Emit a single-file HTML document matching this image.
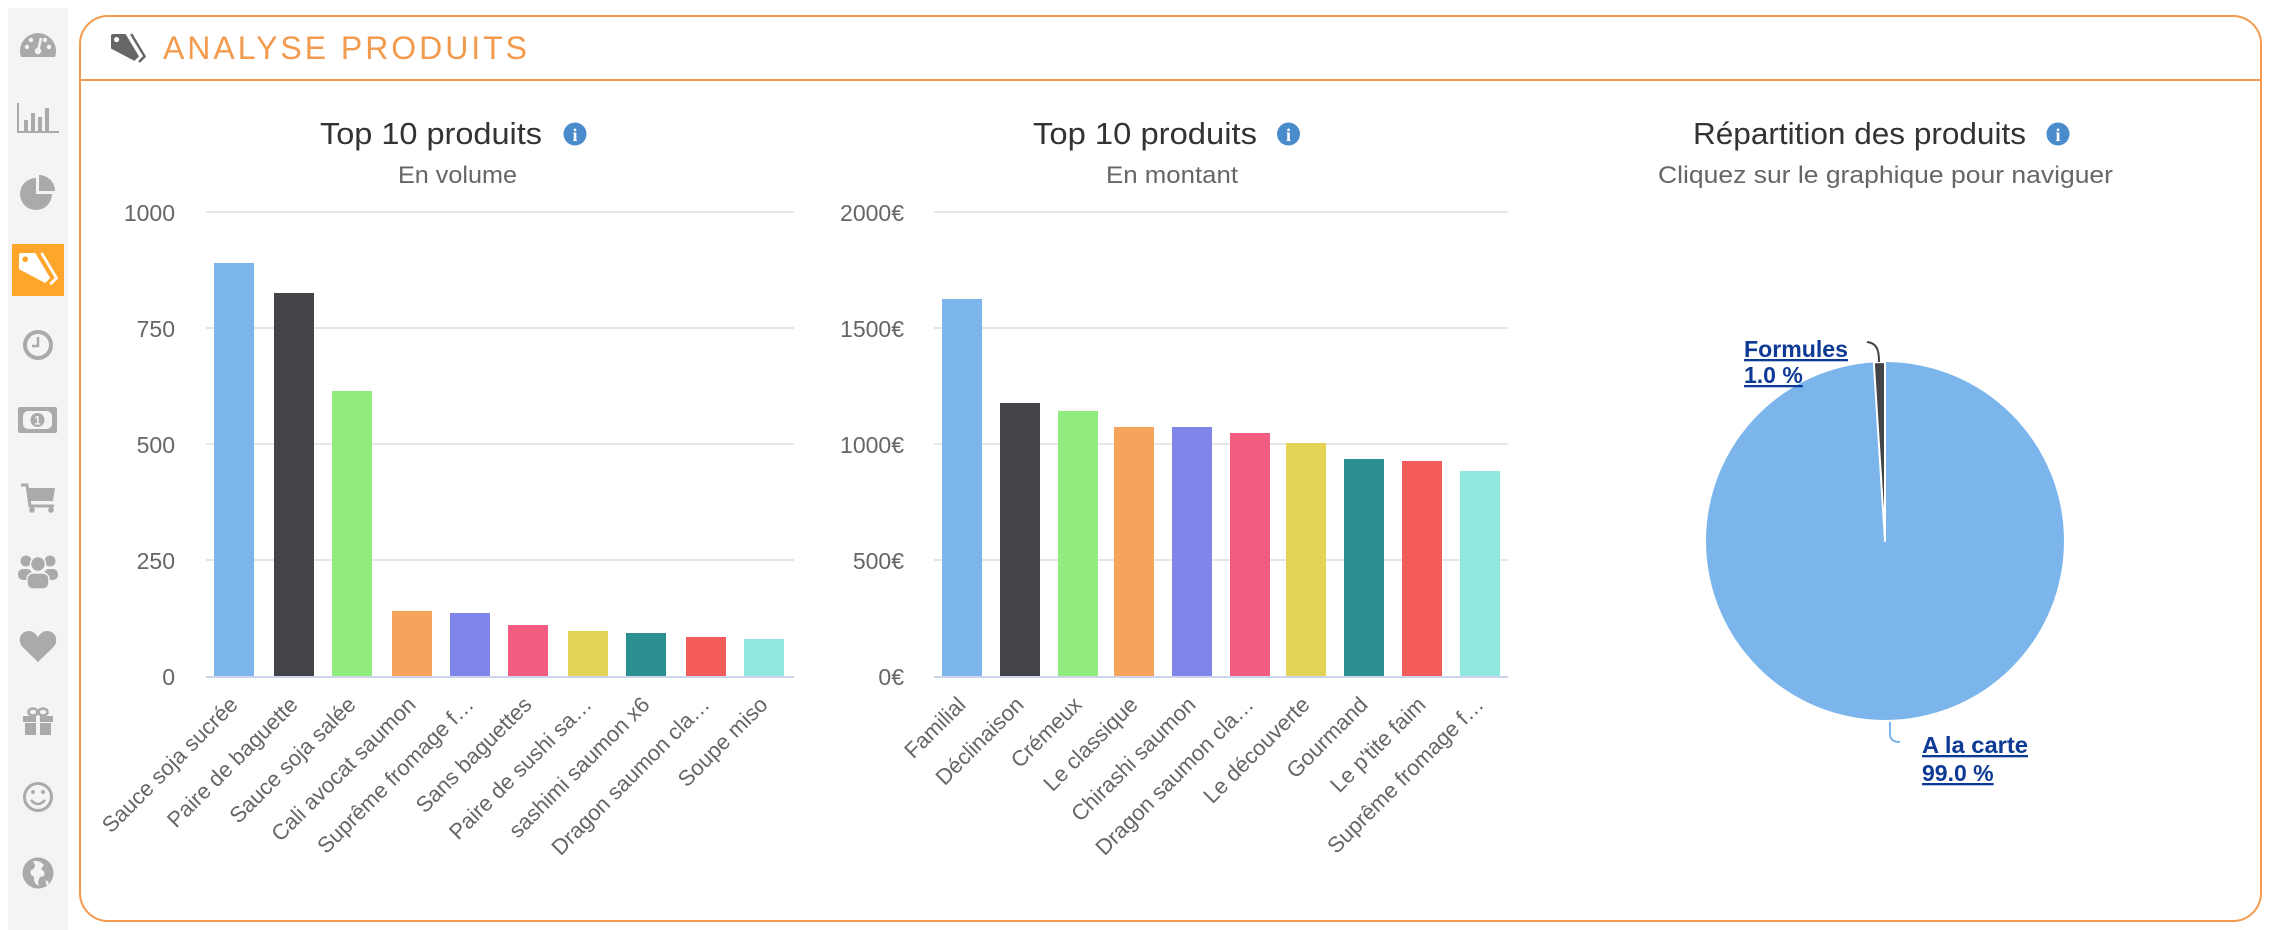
<!DOCTYPE html>
<html><head><meta charset="utf-8"><style>
html,body{margin:0;padding:0;background:#fff;}
svg{display:block;font-family:"Liberation Sans",sans-serif;}
</style></head><body>
<svg width="2272" height="930" viewBox="0 0 2272 930" xmlns="http://www.w3.org/2000/svg">
<!-- sidebar -->
<rect x="8" y="8" width="60" height="922" fill="#f4f4f4"/>
<rect x="12" y="244" width="52" height="52" fill="#fea62b"/>
<g fill="#aaa">
 <!-- gauge -->
 <path d="M21 57 A18 18 0 1 1 55 57 Z"/>
 <g fill="#f4f4f4"><circle cx="27" cy="47" r="2.2"/><circle cx="31" cy="40" r="2.2"/><circle cx="45" cy="40" r="2.2"/><circle cx="49" cy="47" r="2.2"/><circle cx="38" cy="51" r="3.2"/></g>
 <path d="M38 51 L41 38" stroke="#f4f4f4" stroke-width="2.5"/>
 <!-- bar chart -->
 <path d="M18 103 V132 H59" stroke="#aaa" stroke-width="2" fill="none"/>
 <rect x="24" y="120" width="4" height="11"/><rect x="31" y="113" width="4" height="18"/><rect x="38" y="117" width="4" height="14"/><rect x="45" y="108" width="4" height="23"/>
 <!-- pie -->
 <path d="M36 194 V178 A16 16 0 1 0 52 194 Z"/>
 <path d="M39 191 V175 A16 16 0 0 1 55 191 Z"/>
 <!-- clock -->
 <circle cx="38" cy="345" r="13" fill="none" stroke="#aaa" stroke-width="4"/>
 <path d="M38 337 V346 H32" fill="none" stroke="#aaa" stroke-width="2.5"/>
 <!-- money -->
 <rect x="18" y="407" width="39" height="26" rx="2"/>
 <rect x="23" y="411" width="29" height="18" rx="5" fill="#f4f4f4"/>
 <circle cx="37.5" cy="420" r="7"/>
 <text x="37.5" y="424.5" font-size="12" font-weight="bold" fill="#f4f4f4" text-anchor="middle">1</text>
 <!-- cart -->
 <path d="M21 485 H27 L30 506 H54" fill="none" stroke="#aaa" stroke-width="3"/>
 <path d="M28 488 H55 L53 501 H30 Z"/>
 <circle cx="32" cy="510" r="2.8"/><circle cx="51" cy="510" r="2.8"/>
 <!-- users -->
 <circle cx="26" cy="561" r="5.5"/><circle cx="50" cy="561" r="5.5"/>
 <rect x="18" y="569" width="14" height="11" rx="5"/><rect x="44" y="569" width="14" height="11" rx="5"/>
 <circle cx="38" cy="564" r="7.5" stroke="#f4f4f4" stroke-width="1.5"/>
 <rect x="27" y="573" width="22" height="16" rx="6" stroke="#f4f4f4" stroke-width="1.5"/>
 <!-- heart -->
 <path d="M38,662 L22.5,647 C17,641 20,631 29,631 C33,631 36,634 38,637 C40,634 43,631 47,631 C56,631 59,641 53.5,647 Z"/>
 <!-- gift -->
 <ellipse cx="33" cy="712" rx="4.5" ry="3.5" fill="none" stroke="#aaa" stroke-width="2.5"/>
 <ellipse cx="43" cy="712" rx="4.5" ry="3.5" fill="none" stroke="#aaa" stroke-width="2.5"/>
 <rect x="23" y="716" width="30" height="6"/>
 <rect x="25" y="723" width="26" height="12"/>
 <rect x="36" y="716" width="4" height="19" fill="#f4f4f4"/>
 <!-- smiley -->
 <circle cx="38" cy="797" r="13.5" fill="none" stroke="#aaa" stroke-width="3"/>
 <circle cx="33" cy="792" r="2"/><circle cx="43" cy="792" r="2"/>
 <path d="M31 800 Q38 808 45 800" fill="none" stroke="#aaa" stroke-width="2.5"/>
 <!-- globe -->
 <circle cx="38" cy="873" r="15.5"/>
 <path d="M33 861 Q40 860 44 865 L41 869 Q46 872 44 876 L40 877 Q37 882 39 886 Q33 883 34 877 Q29 874 31 870 Q35 869 35 865 Z" fill="#f4f4f4"/>
 <path d="M46 880 Q50 882 48 886 Q45 884 46 880 Z" fill="#f4f4f4"/>
</g>
<!-- active tag icon -->
<g transform="translate(19,253) scale(1.25)" fill="#fff">
 <path d="M2,0 L13,0 L25,20 L21,24 L0,13 L0,2 Q0,0 2,0 Z"/>
 <circle cx="5" cy="5" r="2.3" fill="#fea62b"/>
 <path d="M18,0 L30,20 L25,25" fill="none" stroke="#fff" stroke-width="2.2"/>
</g>

<!-- panel -->
<rect x="80" y="16" width="2181" height="905" rx="28" ry="28" fill="none" stroke="#f29a4d" stroke-width="2"/>
<line x1="80" y1="80" x2="2261" y2="80" stroke="#f29a4d" stroke-width="2"/>
<g transform="translate(111,34) scale(1.12)" fill="#666">
 <path d="M2,0 L13,0 L25,20 L21,24 L0,13 L0,2 Q0,0 2,0 Z"/>
 <circle cx="5" cy="5" r="2.3" fill="#fff"/>
 <path d="M18,0 L30,20 L25,25" fill="none" stroke="#666" stroke-width="2.2"/>
</g>
<text x="163" y="59" font-size="32" fill="#f29a4d" textLength="364" lengthAdjust="spacing">ANALYSE PRODUITS</text>

<!-- ===== Chart 1 ===== -->
<text x="320" y="144" font-size="31" fill="#333" textLength="222" lengthAdjust="spacingAndGlyphs">Top 10 produits</text>
<circle cx="575" cy="134" r="11.5" fill="#4a8bcc"/>
<text x="575" y="141" font-size="18" font-weight="bold" font-family="Liberation Serif" fill="#fff" text-anchor="middle">i</text>
<text x="398" y="183" font-size="24" fill="#666" textLength="119" lengthAdjust="spacingAndGlyphs">En volume</text>
<g stroke="#e6e6e6" stroke-width="2">
 <line x1="206" y1="212" x2="794" y2="212"/><line x1="206" y1="328" x2="794" y2="328"/><line x1="206" y1="444" x2="794" y2="444"/><line x1="206" y1="560" x2="794" y2="560"/>
</g>
<g font-size="23" fill="#666" text-anchor="end">
 <text x="175" y="221">1000</text><text x="175" y="337">750</text><text x="175" y="453">500</text><text x="175" y="569">250</text><text x="175" y="685">0</text>
</g>
<g>
 <rect x="214" y="263" width="40" height="413" fill="#7cb5ec"/>
 <rect x="274" y="293" width="40" height="383" fill="#434348"/>
 <rect x="332" y="391" width="40" height="285" fill="#90ed7d"/>
 <rect x="392" y="611" width="40" height="65" fill="#f7a35c"/>
 <rect x="450" y="613" width="40" height="63" fill="#8085e9"/>
 <rect x="508" y="625" width="40" height="51" fill="#f15c80"/>
 <rect x="568" y="631" width="40" height="45" fill="#e4d354"/>
 <rect x="626" y="633" width="40" height="43" fill="#2b908f"/>
 <rect x="686" y="637" width="40" height="39" fill="#f45b5b"/>
 <rect x="744" y="639" width="40" height="37" fill="#91e8e1"/>
</g>
<line x1="206" y1="677" x2="794" y2="677" stroke="#ccd6eb" stroke-width="2"/>
<g font-size="22" fill="#666" text-anchor="end">
 <text transform="translate(239,706) rotate(-45)">Sauce soja sucrée</text>
 <text transform="translate(299,706) rotate(-45)">Paire de baguette</text>
 <text transform="translate(357,706) rotate(-45)">Sauce soja salée</text>
 <text transform="translate(417,706) rotate(-45)">Cali avocat saumon</text>
 <text transform="translate(475,706) rotate(-45)">Suprême fromage f…</text>
 <text transform="translate(533,706) rotate(-45)">Sans baguettes</text>
 <text transform="translate(593,706) rotate(-45)">Paire de sushi sa…</text>
 <text transform="translate(651,706) rotate(-45)">sashimi saumon x6</text>
 <text transform="translate(711,706) rotate(-45)">Dragon saumon cla…</text>
 <text transform="translate(769,706) rotate(-45)">Soupe miso</text>
</g>

<!-- ===== Chart 2 ===== -->
<text x="1033" y="144" font-size="31" fill="#333" textLength="224" lengthAdjust="spacingAndGlyphs">Top 10 produits</text>
<circle cx="1288.5" cy="134" r="11.5" fill="#4a8bcc"/>
<text x="1288.5" y="141" font-size="18" font-weight="bold" font-family="Liberation Serif" fill="#fff" text-anchor="middle">i</text>
<text x="1106" y="183" font-size="24" fill="#666" textLength="132" lengthAdjust="spacingAndGlyphs">En montant</text>
<g stroke="#e6e6e6" stroke-width="2">
 <line x1="934" y1="212" x2="1508" y2="212"/><line x1="934" y1="328" x2="1508" y2="328"/><line x1="934" y1="444" x2="1508" y2="444"/><line x1="934" y1="560" x2="1508" y2="560"/>
</g>
<g font-size="23" fill="#666" text-anchor="end">
 <text x="904" y="221">2000€</text><text x="904" y="337">1500€</text><text x="904" y="453">1000€</text><text x="904" y="569">500€</text><text x="904" y="685">0€</text>
</g>
<g>
 <rect x="942" y="299" width="40" height="377" fill="#7cb5ec"/>
 <rect x="1000" y="403" width="40" height="273" fill="#434348"/>
 <rect x="1058" y="411" width="40" height="265" fill="#90ed7d"/>
 <rect x="1114" y="427" width="40" height="249" fill="#f7a35c"/>
 <rect x="1172" y="427" width="40" height="249" fill="#8085e9"/>
 <rect x="1230" y="433" width="40" height="243" fill="#f15c80"/>
 <rect x="1286" y="443" width="40" height="233" fill="#e4d354"/>
 <rect x="1344" y="459" width="40" height="217" fill="#2b908f"/>
 <rect x="1402" y="461" width="40" height="215" fill="#f45b5b"/>
 <rect x="1460" y="471" width="40" height="205" fill="#91e8e1"/>
</g>
<line x1="934" y1="677" x2="1508" y2="677" stroke="#ccd6eb" stroke-width="2"/>
<g font-size="22" fill="#666" text-anchor="end">
 <text transform="translate(967,706) rotate(-45)">Familial</text>
 <text transform="translate(1025,706) rotate(-45)">Déclinaison</text>
 <text transform="translate(1083,706) rotate(-45)">Crémeux</text>
 <text transform="translate(1139,706) rotate(-45)">Le classique</text>
 <text transform="translate(1197,706) rotate(-45)">Chirashi saumon</text>
 <text transform="translate(1255,706) rotate(-45)">Dragon saumon cla…</text>
 <text transform="translate(1311,706) rotate(-45)">Le découverte</text>
 <text transform="translate(1369,706) rotate(-45)">Gourmand</text>
 <text transform="translate(1427,706) rotate(-45)">Le p'tite faim</text>
 <text transform="translate(1485,706) rotate(-45)">Suprême fromage f…</text>
</g>

<!-- ===== Pie ===== -->
<text x="1693" y="144" font-size="31" fill="#333" textLength="333" lengthAdjust="spacingAndGlyphs">Répartition des produits</text>
<circle cx="2058" cy="134" r="11.5" fill="#4a8bcc"/>
<text x="2058" y="141" font-size="18" font-weight="bold" font-family="Liberation Serif" fill="#fff" text-anchor="middle">i</text>
<text x="1658" y="183" font-size="24" fill="#666" textLength="455" lengthAdjust="spacingAndGlyphs">Cliquez sur le graphique pour naviguer</text>
<circle cx="1885" cy="541" r="179" fill="#7cb5ec"/>
<path d="M1885 541 L1873.8 362.4 A179 179 0 0 1 1885 362 Z" fill="#434348" stroke="#fff" stroke-width="2" stroke-linejoin="round"/>
<path d="M1867 342 C1877 343 1879 350 1879 362" fill="none" stroke="#434348" stroke-width="2"/>
<path d="M1890 722 L1890 734 Q1890 742 1900 742" fill="none" stroke="#7cb5ec" stroke-width="2"/>
<g font-size="23" font-weight="bold" fill="#0d3a94" text-decoration="underline">
 <text x="1744" y="357" textLength="104" lengthAdjust="spacingAndGlyphs">Formules</text>
 <text x="1744" y="383">1.0 %</text>
 <text x="1922" y="753" textLength="106" lengthAdjust="spacingAndGlyphs">A la carte</text>
 <text x="1922" y="781">99.0 %</text>
</g>
</svg>
</body></html>
